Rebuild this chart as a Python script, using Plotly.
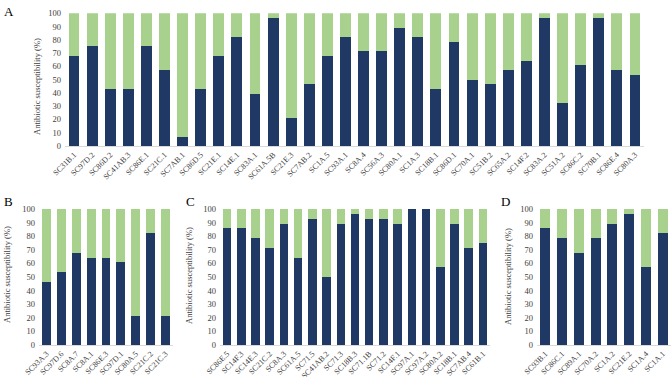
import plotly.graph_objects as go

labels_A = ["SC31B.1", "SC97D.2", "SC86D.2", "SC41AB.3", "SC86E.1", "SC21C.1", "SC7AB.1", "SC86D.5",
            "SC21E.1", "SC14E.1", "SC83A.1", "SC61A.5B", "SC21E.3", "SC7AB.2", "SC1A.5", "SC93A.1",
            "SC8A.4", "SC56A.3", "SC80A.1", "SC1A.3", "SC18B.1", "SC86D.1", "SC70A.1", "SC51B.2",
            "SC65A.2", "SC14F.2", "SC83A.2", "SC51A.2", "SC86C.2", "SC70B.1", "SC86E.4", "SC80A.3"]
susc_A = [67.9, 75.0, 42.9, 42.9, 75.0, 57.1, 7.1, 42.9, 67.9, 82.1, 39.3, 96.4, 21.4, 46.4, 67.9, 82.1,
          71.4, 71.4, 89.3, 82.1, 42.9, 78.6, 50.0, 46.4, 57.1, 64.3, 96.4, 32.1, 60.7, 96.4, 57.1, 53.6]
res_A = [32.1, 25.0, 57.1, 57.1, 25.0, 42.9, 92.9, 57.1, 32.1, 17.9, 60.7, 3.6, 78.6, 53.6, 32.1, 17.9,
         28.6, 28.6, 10.7, 17.9, 57.1, 21.4, 50.0, 53.6, 42.9, 35.7, 3.6, 67.9, 39.3, 3.6, 42.9, 46.4]

labels_B = ["SC93A.3", "SC97D.6", "SC8A.7", "SC8A.1", "SC86E.3", "SC97D.1", "SC80A.5", "SC21C.2", "SC21C.3"]
susc_B = [46.4, 53.6, 67.9, 64.3, 64.3, 60.7, 21.4, 82.1, 21.4]
res_B = [53.6, 46.4, 32.1, 35.7, 35.7, 39.3, 78.6, 17.9, 78.6]

labels_C = ["SC86E.5", "SC14F.3", "SC14E.3", "SC21C.2", "SC8A.3", "SC61A.5", "SC71.5", "SC41AB.2",
            "SC71.3", "SC18B.3", "SC71.1B", "SC71.2", "SC14F.1", "SC97A.1", "SC97A.2", "SC80A.2",
            "SC18B.1", "SC7AB.4", "SC61B.1"]
susc_C = [85.7, 85.7, 78.6, 71.4, 89.3, 64.3, 92.9, 50.0, 89.3, 96.4, 92.9, 92.9, 89.3, 100.0, 100.0,
          57.1, 89.3, 71.4, 75.0]
res_C = [14.3, 14.3, 21.4, 28.6, 10.7, 35.7, 7.1, 50.0, 10.7, 3.6, 7.1, 7.1, 10.7, 0.0, 0.0,
         42.9, 10.7, 28.6, 25.0]

labels_D = ["SC93B.1", "SC86C.1", "SC89A.1", "SC70A.2", "SC1A.2", "SC21E.2", "SC1A.4", "SC1A.1"]
susc_D = [85.7, 78.6, 67.9, 78.6, 89.3, 96.4, 57.1, 82.1]
res_D = [14.3, 21.4, 32.1, 21.4, 10.7, 3.6, 42.9, 17.9]

NAVY = "#1F3864"
GREEN = "#A9D18E"
FONT = "Liberation Serif"
W, H = 671, 377

panels = [
    ("A", labels_A, susc_A, res_A, (65, 644), (146, 13.3)),
    ("B", labels_B, susc_B, res_B, (39, 173), (345, 209)),
    ("C", labels_C, susc_C, res_C, (220, 490), (345, 209)),
    ("D", labels_D, susc_D, res_D, (537, 671), (345, 209)),
]

fig = go.Figure()
layout = dict(
    width=W, height=H, margin=dict(l=0, r=0, t=0, b=0),
    paper_bgcolor="white", plot_bgcolor="white",
    barmode="stack", bargap=0.4, showlegend=False,
    font=dict(family=FONT, size=8, color="#404040"),
    annotations=[],
)

title_pos = {"A": (37, 87), "B": (7, 275), "C": (189, 275), "D": (508, 277)}
letter_pos = {"A": (2, 2), "B": (2, 192), "C": (184, 192), "D": (499, 192)}

for i, (name, labs, sus, res, (x0, x1), (y0, y1)) in enumerate(panels):
    suffix = "" if i == 0 else str(i + 1)
    xa, ya = "x" + suffix, "y" + suffix
    fig.add_trace(go.Bar(x=labs, y=sus, marker=dict(color=NAVY, line=dict(width=0)),
                         xaxis=xa, yaxis=ya, name="Susceptible"))
    fig.add_trace(go.Bar(x=labs, y=res, marker=dict(color=GREEN, line=dict(width=0)),
                         xaxis=xa, yaxis=ya, name="Resistant"))
    layout["xaxis" + suffix] = dict(
        domain=[x0 / W, x1 / W], anchor=ya, tickangle=-45, showline=True,
        linecolor="#D9D9D9", linewidth=1, ticks="", showgrid=False, automargin=False,
        tickfont=dict(family=FONT, size=8, color="#404040"), fixedrange=True,
    )
    layout["yaxis" + suffix] = dict(
        domain=[1 - y0 / H, 1 - y1 / H], anchor=xa, range=[0, 100], dtick=10,
        showline=False, showgrid=False, ticks="", zeroline=False, automargin=False,
        tickfont=dict(family=FONT, size=8.5, color="#404040"), ticklabelstandoff=3,
    )
    tx, ty = title_pos[name]
    layout["annotations"].append(dict(
        text="Antibiotic susceptibility (%)", textangle=-90, x=tx / W, y=1 - ty / H,
        xref="paper", yref="paper", showarrow=False, xanchor="center", yanchor="middle",
        font=dict(family=FONT, size=8.5, color="#404040"),
    ))
    lx, ly = letter_pos[name]
    layout["annotations"].append(dict(
        text=name, x=lx / W, y=1 - ly / H, xref="paper", yref="paper", showarrow=False,
        xanchor="left", yanchor="top", font=dict(family=FONT, size=13, color="black"),
    ))

fig.update_layout(**layout)
fig.write_html("out.html", config={"displayModeBar": False},
               post_script="document.body.style.margin='0';document.body.style.overflow='hidden';")
